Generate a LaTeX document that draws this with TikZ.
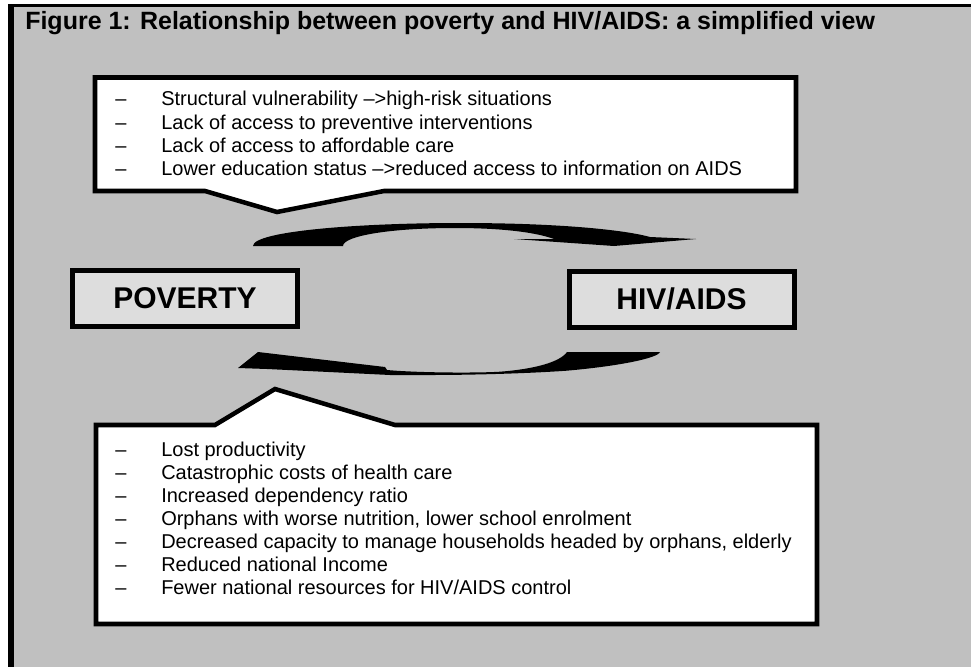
\documentclass[tikz,border=0pt]{standalone}
\usepackage{fontspec}
\setmainfont{Liberation Sans}
\definecolor{bggray}{HTML}{C0C0C0}
\definecolor{boxgray}{HTML}{DDDDDD}
\tikzset{
  callout/.style={draw=black, fill=white, line width=3.4pt, line join=miter},
  keybox/.style={draw=black, fill=boxgray, line width=3.75pt, minimum width=168.75pt, minimum height=42.3pt, inner sep=0pt, font=\bfseries\fontsize{22.5pt}{26pt}\selectfont},
  listtext/.style={anchor=base west, inner sep=0pt, font=\fontsize{15pt}{17.25pt}\selectfont},
  bentarrow/.style={fill=black},
}
\begin{document}
\begin{tikzpicture}[x=0.75pt,y=-0.75pt]
\useasboundingbox (0,0) rectangle (971,667);
\fill[white] (0,0) rectangle (971,667);
\fill[bggray] (7.5,4) rectangle (971,667);
\fill[black] (7.5,4) rectangle (13.5,667);
\fill[black] (7.5,4) rectangle (971,7);

\node[anchor=base west, inner sep=0pt, font=\bfseries\fontsize{18.75pt}{22pt}\selectfont] (title) at (25,30)
  {Figure 1: Relationship between poverty and HIV/AIDS: a simplified view};

% upper callout
\draw[callout] (95,77.5) -- (796,77.5) -- (796,191) -- (384,191) -- (277,212) -- (205,191) -- (95,191) -- cycle;
\foreach \txt [count=\i] in {Structural vulnerability –>high-risk situations,
  Lack of access to preventive interventions,
  Lack of access to affordable care,
  Lower education status –>reduced access to information on AIDS} {
  \node[listtext] (ud\i) at (115,{83+23*\i}) {–};
  \node[listtext] (ut\i) at (161,{83+23*\i}) {\txt};
}

% top curved arrow
\fill[bentarrow] (253,246) .. controls (253,231) and (360,223) .. (460,223)
  .. controls (560,223) and (625,230) .. (650,237) -- (696,239) -- (614,246) -- (514,239) -- (554,239)
  .. controls (535,232) and (500,228) .. (455,228) .. controls (390,228) and (343,236) .. (343,246) -- cycle;

% boxes
\node[keybox] (poverty) at (185,298.5) {POVERTY};
\node[keybox] (hiv) at (681.5,299.25) {HIV/AIDS};

% bottom curved arrow
\fill[bentarrow] (238,368) -- (258,352) -- (385,367) -- (387,370)
  .. controls (420,373) and (480,373) .. (500,371.7) .. controls (535,369) and (560,362) .. (567,352)
  -- (660,352) .. controls (658,358) and (620,366) .. (566.7,370.7)
  .. controls (520,374) and (460,375) .. (433,375) -- (390,375) -- (267,369) -- cycle;

% lower callout
\draw[callout] (96,425) -- (215,425) -- (275,389) -- (395,425) -- (817,425) -- (817,624) -- (96,624) -- cycle;
\foreach \txt [count=\i] in {Lost productivity,
  Catastrophic costs of health care,
  Increased dependency ratio,
  {Orphans with worse nutrition, lower school enrolment},
  {Decreased capacity to manage households headed by orphans, elderly},
  Reduced national Income,
  Fewer national resources for HIV/AIDS control} {
  \node[listtext] (ld\i) at (115,{433+23*\i}) {–};
  \node[listtext] (lt\i) at (161,{433+23*\i}) {\txt};
}
\end{tikzpicture}
\end{document}
